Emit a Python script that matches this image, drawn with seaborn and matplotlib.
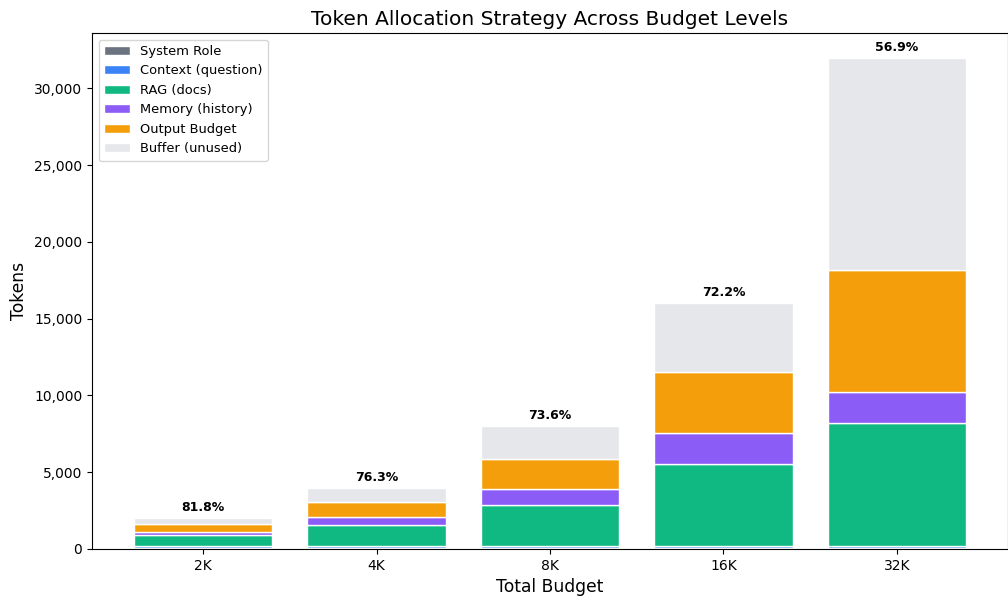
import numpy as np
import pandas as pd
import matplotlib
matplotlib.use('Agg')
import matplotlib.pyplot as plt
import seaborn as sns

# data (tokens)
budgets = ['2K', '4K', '8K', '16K', '32K']
totals = [2000, 4000, 8000, 16000, 32000]
system_role = [50, 50, 50, 50, 50]
context = [150, 150, 150, 150, 150]
rag = [686, 1352, 2688, 5352, 8000]
memory = [250, 500, 1000, 2000, 2000]
output_budget = [500, 1000, 2000, 4000, 8000]

used = np.array(system_role) + np.array(context) + np.array(rag) + np.array(memory) + np.array(output_budget)
buffer = list(np.array(totals) - used)

layers = [('System Role', system_role, '#6b7280'),
          ('Context (question)', context, '#3b82f6'),
          ('RAG (docs)', rag, '#10b981'),
          ('Memory (history)', memory, '#8b5cf6'),
          ('Output Budget', output_budget, '#f59e0b'),
          ('Buffer (unused)', buffer, '#e5e7eb')]

# plain matplotlib look, black text
plt.rcParams['font.family'] = ['DejaVu Sans']

fig = plt.figure(figsize=(10.08, 5.99), dpi=100)
ax = fig.add_axes([92/1008, 1-549/599, 916/1008, (549-33)/599])

bottom = np.zeros(len(budgets))
for name, vals, col in layers:
    df = pd.DataFrame({'budget': budgets, 'tokens': vals})
    sns.barplot(data=df, x='budget', y='tokens', bottom=bottom, color=col,
                width=0.8, edgecolor='white', linewidth=1, label=name, ax=ax,
                saturation=1, err_kws={'linewidth': 0})
    bottom = bottom + np.array(vals)

for i in range(len(budgets)):
    pct = used[i] / totals[i] * 100
    ax.text(i, totals[i] + 250, f'{pct:.1f}%', ha='center', va='bottom',
            fontsize=9, fontweight='bold', color='black')

ax.set_xlim(-0.64, 4.64)
ax.set_ylim(0, max(totals) * 1.05)
ax.yaxis.set_major_formatter(matplotlib.ticker.FuncFormatter(lambda v, p: f'{int(v):,}'))
ax.tick_params(labelsize=10)
ax.set_xlabel('Total Budget', fontsize=12.3)
ax.set_ylabel('Tokens', fontsize=12.3)
ax.set_title('Token Allocation Strategy Across Budget Levels', fontsize=14.5)
ax.legend(loc='upper left', fontsize=9.4)

fig.savefig('out.png', dpi=100)
